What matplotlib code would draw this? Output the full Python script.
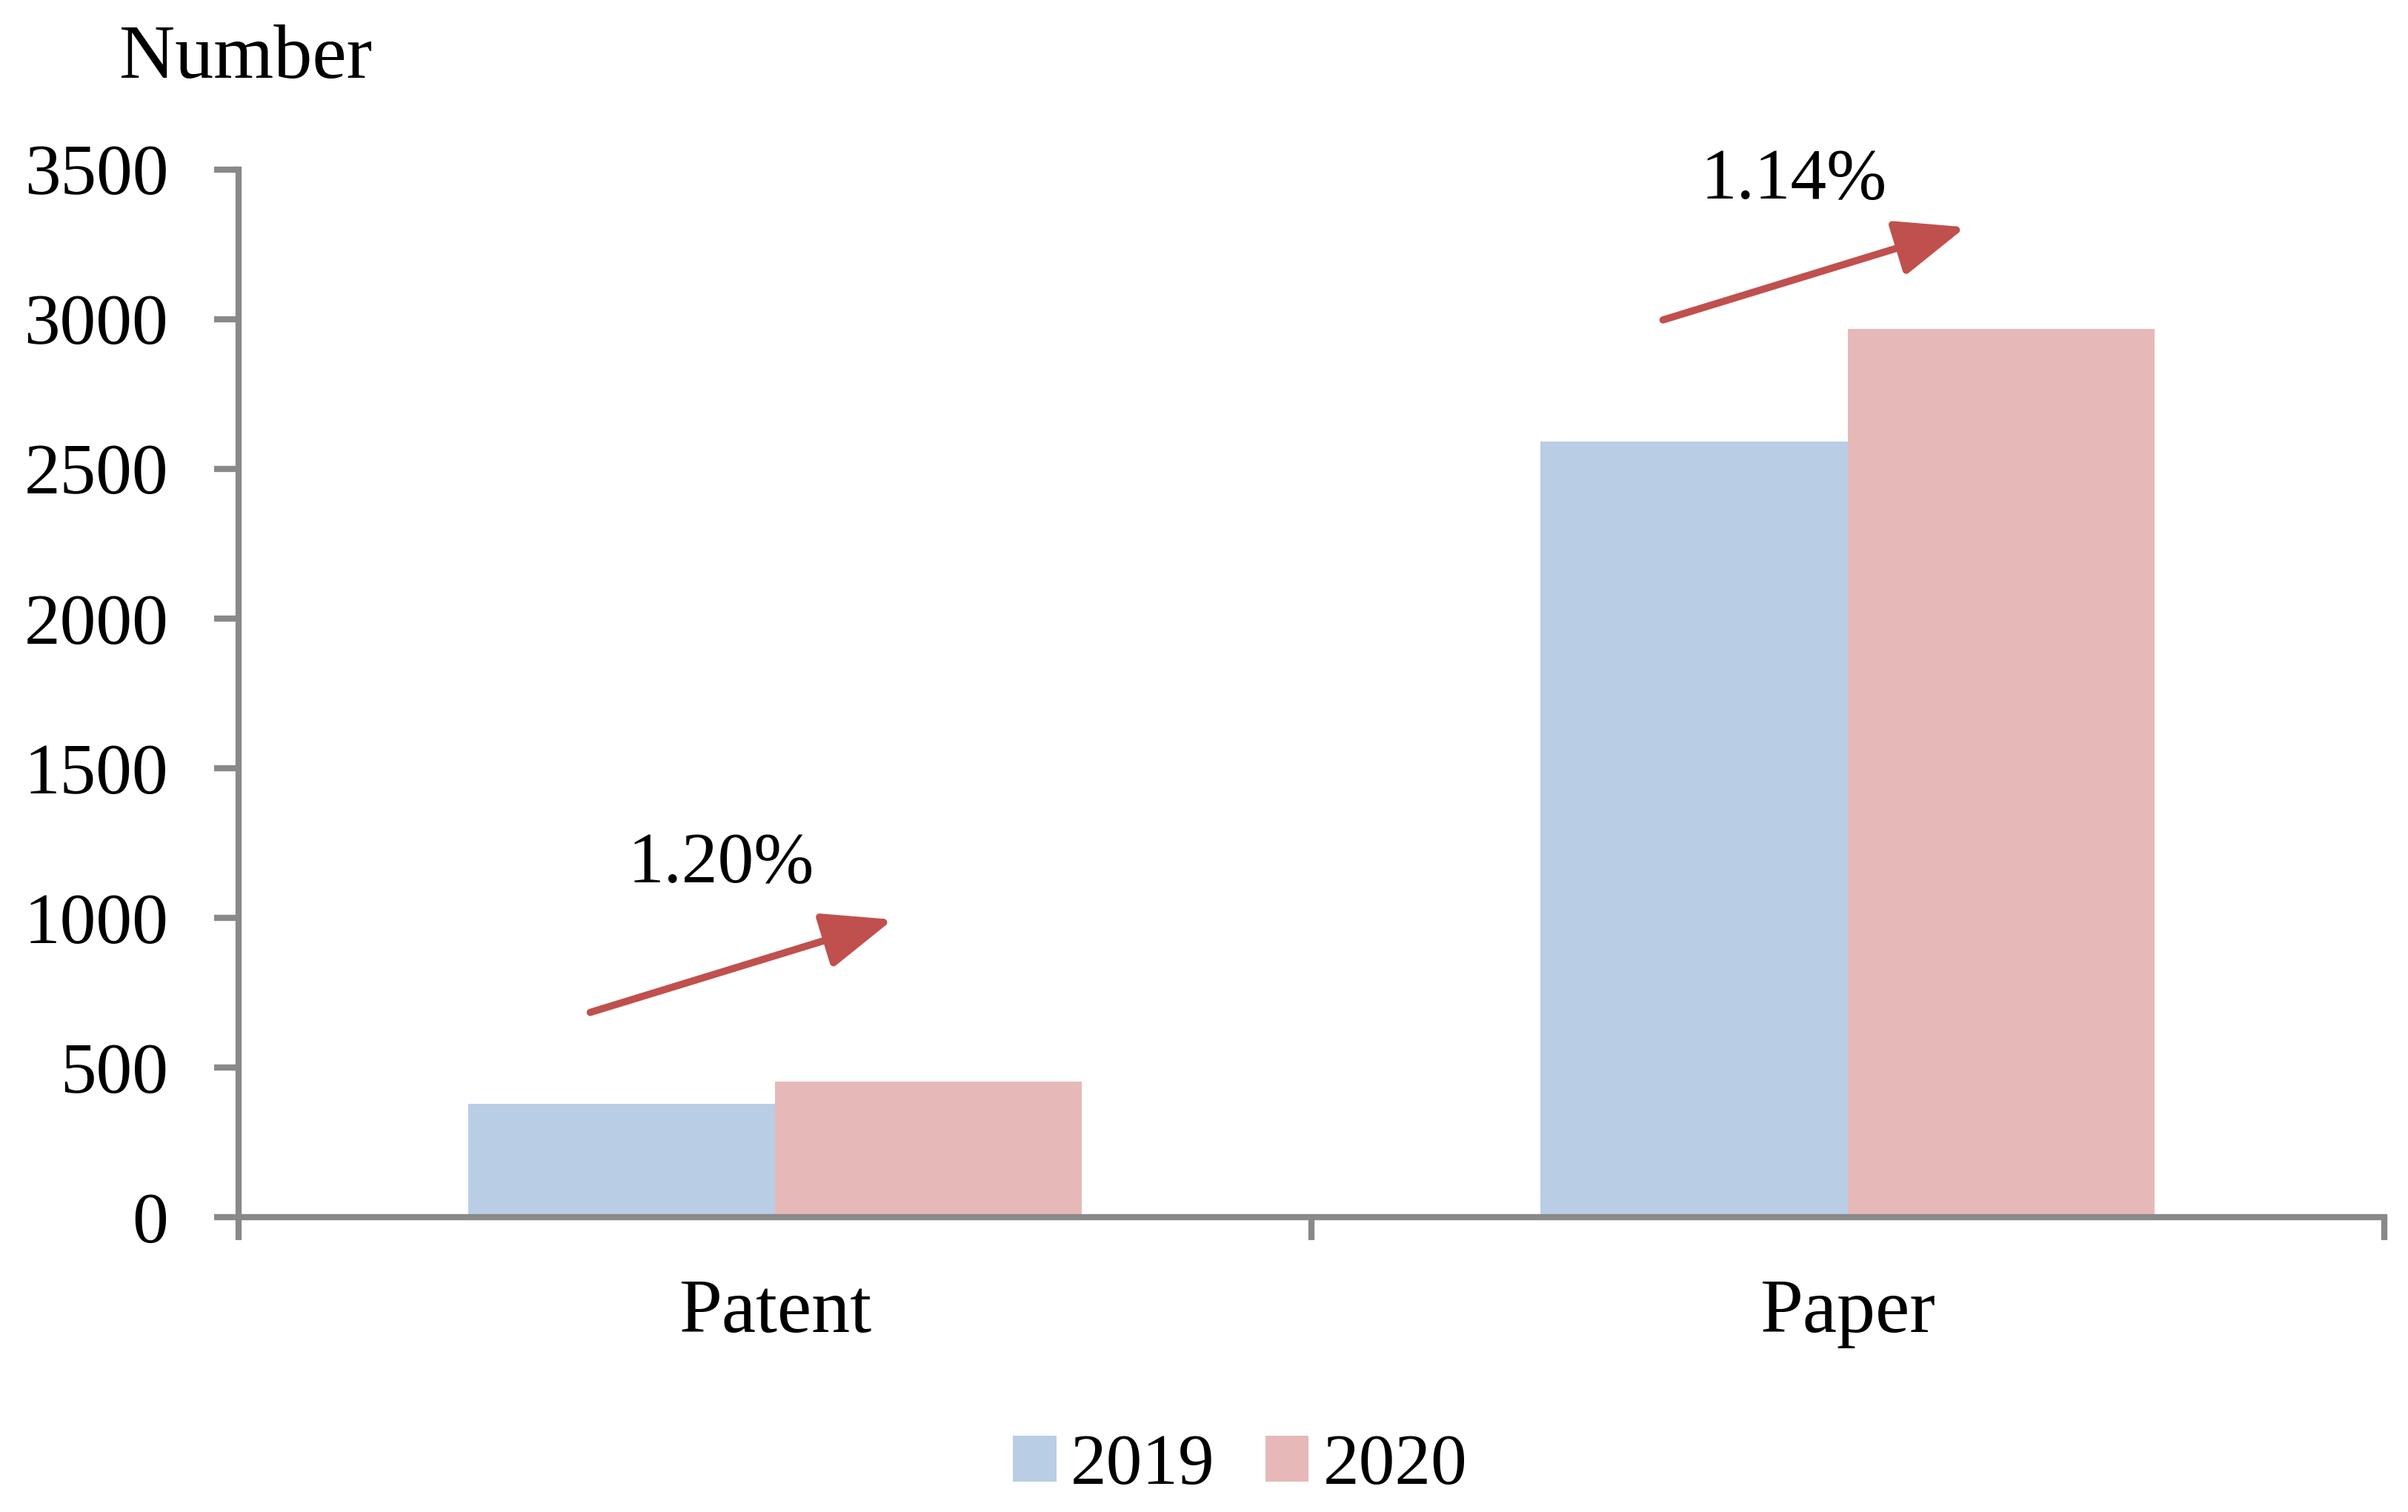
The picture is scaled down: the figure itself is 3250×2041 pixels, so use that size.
import matplotlib
matplotlib.use("Agg")
import matplotlib.pyplot as plt
import numpy as np

# data
categories = ["Patent", "Paper"]
years = ["2019", "2020"]
values_2019 = [378, 2592]
values_2020 = [452, 2966]
growth_labels = ["1.20%", "1.14%"]
y_ticks = [0, 500, 1000, 1500, 2000, 2500, 3000, 3500]

# style
FONT = "Liberation Serif"
FS = 75      # words
FS_NUM = 70  # numbers
GREY = "#898989"
BLUE = "#B9CDE5"
PINK = "#E6B9B8"
RED = "#C0504D"

plt.rcParams["font.family"] = [FONT, "DejaVu Serif"]

fig = plt.figure(figsize=(32.5, 20.41), dpi=100)
ax = fig.add_axes([0.099, 0.195, 0.891, 0.693])

x = np.arange(len(categories))
w = 0.286
ax.bar(x - w / 2, values_2019, width=w, color=BLUE, label=years[0])
ax.bar(x + w / 2, values_2020, width=w, color=PINK, label=years[1])

ax.set_xlim(-0.5, len(categories) - 0.5)
ax.set_ylim(0, 3500)

# spines
for s in ["top", "right"]:
    ax.spines[s].set_visible(False)
for s in ["left", "bottom"]:
    ax.spines[s].set_color(GREY)
    ax.spines[s].set_linewidth(6)

# y ticks
ax.set_yticks(y_ticks)
ax.tick_params(axis="y", direction="out", length=24, width=6, color=GREY,
               labelsize=FS_NUM, pad=44)

# x ticks at category boundaries, labels at centers
ax.set_xticks(np.arange(-0.5, len(categories), 1.0))
ax.set_xticklabels([])
ax.tick_params(axis="x", which="major", direction="out", length=22, width=6,
               color=GREY)
ax.set_xticks(x, minor=True)
ax.set_xticklabels(categories, minor=True)
ax.tick_params(axis="x", which="minor", length=0, labelsize=FS, pad=60)

# growth arrows and labels
arrow_y0 = [684, 2997]
label_dy = [183, 152]
for i in range(len(categories)):
    x0 = x[i] - 0.172
    x1 = x[i] + 0.11
    y0 = arrow_y0[i]
    y1 = y0 + 310
    ax.annotate("", xy=(x1, y1), xytext=(x0, y0),
                arrowprops=dict(arrowstyle="-|>,head_length=1.0,head_width=0.4",
                                color=RED, lw=7, mutation_scale=58,
                                shrinkA=0, shrinkB=0))
    ax.text(x[i] - 0.05, y1 + label_dy[i], growth_labels[i], fontsize=FS_NUM,
            ha="center", va="center", clip_on=False)

# y axis title
fig.text(0.102, 0.961, "Number", fontsize=FS, ha="center", va="center")

# legend
fig.legend(loc="center", bbox_to_anchor=(0.515, 0.03), ncol=2, frameon=False,
           fontsize=FS_NUM, handlelength=0.6, handleheight=0.6,
           handletextpad=0.2, columnspacing=0.7)

fig.savefig("out.png", dpi=100, facecolor="w")
